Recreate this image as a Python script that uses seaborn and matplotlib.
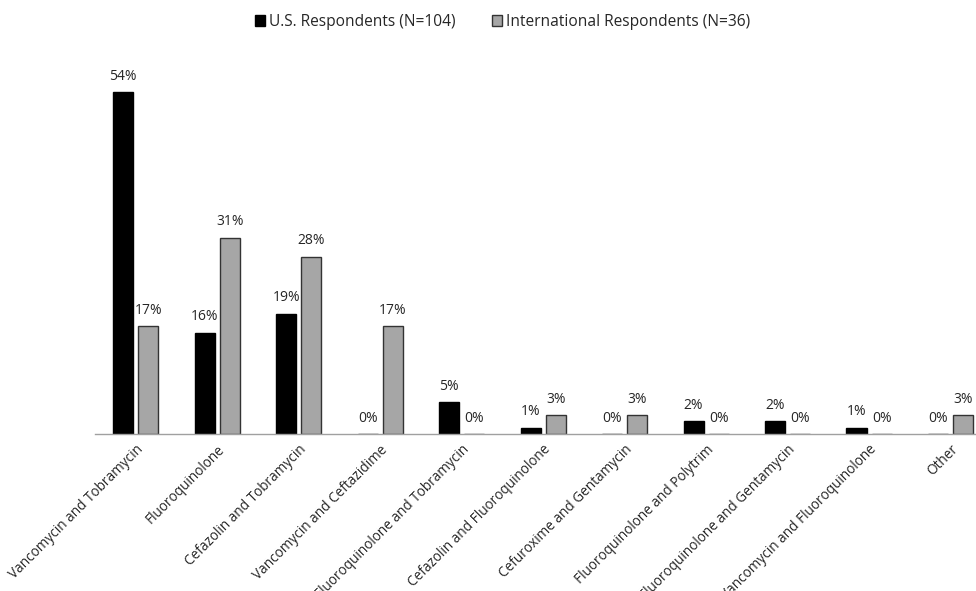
import pandas as pd
import numpy as np
import seaborn as sns
import matplotlib.pyplot as plt
import matplotlib.patches as mpatches

# data
categories = ["Vancomycin and Tobramycin", "Fluoroquinolone", "Cefazolin and Tobramycin",
              "Vancomycin and Ceftazidime", "Fluoroquinolone and Tobramycin",
              "Cefazolin and Fluoroquinolone", "Cefuroxime and Gentamycin",
              "Fluoroquinolone and Polytrim", "Fluoroquinolone and Gentamycin",
              "Vancomycin and Fluoroquinolone", "Other"]
us_values = [54, 16, 19, 0, 5, 1, 0, 2, 2, 1, 0]
intl_values = [17, 31, 28, 17, 0, 3, 3, 0, 0, 0, 3]
series_names = ["U.S. Respondents (N=104)", "International Respondents (N=36)"]

df = pd.DataFrame({
    "category": categories * 2,
    "value": us_values + intl_values,
    "group": [series_names[0]] * len(categories) + [series_names[1]] * len(categories),
})

sns.set_style("white")
plt.rcParams["font.family"] = ["Open Sans", "DejaVu Sans"]

fig = plt.figure(figsize=(9.76, 5.91), dpi=100)
ax = fig.add_axes([95 / 976, 1 - 434 / 591, 881 / 976, 374 / 591])

colors = ["black", "#a6a6a6"]
sns.barplot(data=df, x="category", y="value", hue="group", ax=ax,
            palette=colors, width=0.62, gap=0.2,
            saturation=1, linewidth=1)

for p in ax.containers[0]:
    p.set_edgecolor("black")
for p in ax.containers[1]:
    p.set_edgecolor("#333333")

for c in ax.containers:
    ax.bar_label(c, fmt="%g%%", padding=6, fontsize=10, color="#262626")

ax.set_xlim(-0.5, 10.31)
ax.set_ylim(0, 59.1)
ax.set_xlabel("")
ax.set_ylabel("")
ax.set_yticks([])
ax.tick_params(axis="x", length=0, pad=6)
plt.setp(ax.get_xticklabels(), rotation=45, ha="right", rotation_mode="anchor",
         fontsize=9.8, color="#262626")

for s in ["top", "right", "left"]:
    ax.spines[s].set_visible(False)
ax.spines["bottom"].set_color("#a0a0a0")
ax.spines["bottom"].set_linewidth(1)

ax.legend_.remove()
handles = [mpatches.Patch(facecolor=colors[0], edgecolor="black", label=series_names[0]),
           mpatches.Patch(facecolor=colors[1], edgecolor="#333333", label=series_names[1])]
fig.legend(handles=handles, loc="upper center", bbox_to_anchor=(0.515, 1.0), ncol=2,
           frameon=False, fontsize=11.2, handlelength=0.65, handleheight=0.65,
           handletextpad=0.3, columnspacing=2.3)

fig.savefig("out.png", dpi=100)
